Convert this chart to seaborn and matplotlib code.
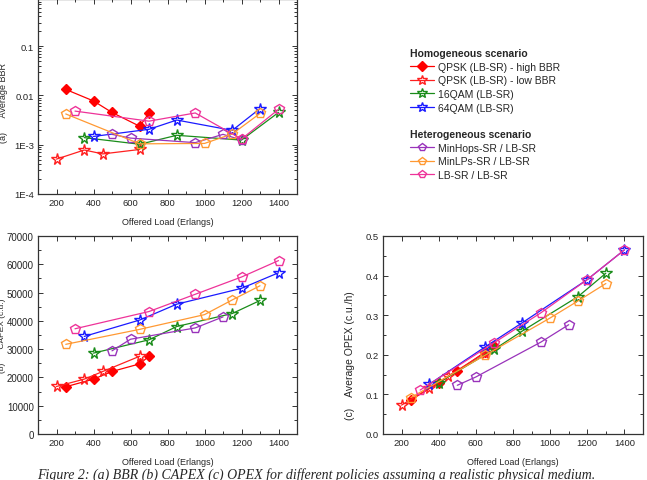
import numpy as np
import pandas as pd
import matplotlib
matplotlib.use("Agg")
import matplotlib.pyplot as plt
import seaborn as sns
from matplotlib.lines import Line2D
from matplotlib.ticker import FixedLocator, FixedFormatter, MultipleLocator, LogLocator, NullFormatter

sns.set_style("ticks")
plt.rcParams['font.family'] = ['Liberation Sans', 'DejaVu Sans']

# ---------------- data ----------------
names = ["QPSK (LB-SR) - high BBR", "QPSK (LB-SR) - low BBR", "16QAM (LB-SR)", "64QAM (LB-SR)",
         "MinHops-SR / LB-SR", "MinLPs-SR / LB-SR", "LB-SR / LB-SR"]

# (a) Average BBR
bbr_x = {
    names[0]: [250, 400, 500, 650, 700],
    names[1]: [200, 350, 450, 650],
    names[2]: [350, 650, 850, 1200, 1400],
    names[3]: [400, 700, 850, 1150, 1300],
    names[4]: [500, 600, 950, 1100, 1200],
    names[5]: [250, 650, 1000, 1150, 1300],
    names[6]: [300, 700, 950, 1200, 1400],
}
bbr_y = {
    names[0]: [0.0132, 0.0077, 0.0045, 0.00236, 0.0044],
    names[1]: [5.1e-4, 7.8e-4, 6.5e-4, 8.0e-4],
    names[2]: [1.39e-3, 1.02e-3, 1.55e-3, 1.24e-3, 4.5e-3],
    names[3]: [1.47e-3, 2.05e-3, 3.16e-3, 1.95e-3, 5.4e-3],
    names[4]: [1.62e-3, 1.36e-3, 1.1e-3, 1.62e-3, 1.25e-3],
    names[5]: [4.2e-3, 1.04e-3, 1.06e-3, 1.65e-3, 4.3e-3],
    names[6]: [4.8e-3, 3.0e-3, 4.4e-3, 1.3e-3, 5.2e-3],
}

# (b) CAPEX
capex_x = {
    names[0]: [250, 400, 500, 650, 700],
    names[1]: [200, 350, 450, 650],
    names[2]: [400, 700, 850, 1150, 1300],
    names[3]: [350, 650, 850, 1200, 1400],
    names[4]: [500, 600, 950, 1100],
    names[5]: [250, 650, 1000, 1150, 1300],
    names[6]: [300, 700, 950, 1200, 1400],
}
capex_y = {
    names[0]: [16700, 19400, 22100, 24800, 27500],
    names[1]: [16800, 19400, 22100, 27500],
    names[2]: [28600, 33300, 38000, 42600, 47200],
    names[3]: [34500, 40300, 45900, 51500, 57000],
    names[4]: [29400, 33500, 37500, 41400],
    names[5]: [31700, 37000, 42200, 47400, 52400],
    names[6]: [37200, 43300, 49400, 55500, 61300],
}

# (c) OPEX
opex_x = {
    names[0]: [250, 400, 500, 650, 700],
    names[1]: [200, 350, 450, 650],
    names[2]: [400, 700, 850, 1150, 1300],
    names[3]: [350, 650, 850, 1200, 1400],
    names[4]: [500, 600, 950, 1100],
    names[5]: [250, 650, 1000, 1150, 1300],
    names[6]: [300, 700, 950, 1200, 1400],
}
opex_y = {
    names[0]: [0.086, 0.129, 0.159, 0.207, 0.222],
    names[1]: [0.073, 0.116, 0.146, 0.205],
    names[2]: [0.130, 0.214, 0.260, 0.347, 0.406],
    names[3]: [0.126, 0.220, 0.281, 0.390, 0.465],
    names[4]: [0.123, 0.144, 0.232, 0.276],
    names[5]: [0.092, 0.199, 0.293, 0.336, 0.380],
    names[6]: [0.111, 0.231, 0.306, 0.390, 0.465],
}

bbr_ticks = [1e-4, 1e-3, 1e-2, 1e-1]
bbr_ticklabels = ["1E-4", "1E-3", "0.01", "0.1"]

# ---------------- styles ----------------
styles = {
    names[0]: dict(color="#ff0000", marker="D", mfc="#ff0000", ms=5.5),
    names[1]: dict(color="#ff2020", marker="*", mfc="none", ms=8.5),
    names[2]: dict(color="#1a8c1a", marker="*", mfc="none", ms=8.5),
    names[3]: dict(color="#1a1aff", marker="*", mfc="none", ms=8.5),
    names[4]: dict(color="#9933bb", marker="p", mfc="none", ms=7),
    names[5]: dict(color="#ff9933", marker="p", mfc="none", ms=7),
    names[6]: dict(color="#ee3399", marker="p", mfc="none", ms=7),
}

W, H = 647, 481
fig = plt.figure(figsize=(W / 100, H / 100), dpi=100)

def ax_rect(l, t, r, b):
    return [l / W, 1 - b / H, (r - l) / W, (b - t) / H]

axA = fig.add_axes(ax_rect(38, 0, 297, 195))
axB = fig.add_axes(ax_rect(38, 237, 297, 435))
axC = fig.add_axes(ax_rect(383, 237, 643, 435))

def draw(ax, xs, ys):
    for n in names:
        st = styles[n]
        df = pd.DataFrame({"x": xs[n], "y": ys[n]})
        sns.lineplot(data=df, x="x", y="y", ax=ax, color=st["color"], lw=0.9,
                     marker=st["marker"], markersize=st["ms"], markerfacecolor=st["mfc"],
                     markeredgecolor=st["color"], markeredgewidth=1.0,
                     sort=False, estimator=None, legend=False)

draw(axA, bbr_x, bbr_y)
draw(axB, capex_x, capex_y)
draw(axC, opex_x, opex_y)

tick_fs = 6.8
for ax in (axA, axB, axC):
    ax.set_xlim(100, 1500)
    ax.xaxis.set_major_locator(FixedLocator([200, 400, 600, 800, 1000, 1200, 1400]))
    ax.xaxis.set_minor_locator(MultipleLocator(100))
    ax.tick_params(which="both", direction="in", top=True, right=True, labelsize=tick_fs,
                   color="#333333", width=0.7, pad=3)
    ax.tick_params(which="major", length=3.5)
    ax.tick_params(which="minor", length=2)
    for s in ax.spines.values():
        s.set_linewidth(0.9)
        s.set_color("#333333")
    ax.set_xlabel("Offered Load (Erlangs)", fontsize=6.5, labelpad=7)

axA.set_yscale("log")
axA.set_ylim(1e-4, 0.9)
axA.yaxis.set_major_locator(FixedLocator(bbr_ticks))
axA.yaxis.set_major_formatter(FixedFormatter(bbr_ticklabels))
axA.yaxis.set_minor_locator(LogLocator(base=10, subs=np.arange(2, 10)))
axA.yaxis.set_minor_formatter(NullFormatter())
axA.set_ylabel("(a)      Average BBR", fontsize=6.5)
axA.yaxis.set_label_coords(-0.115, 0.47)

axB.set_ylim(0, 70000)
axB.yaxis.set_major_locator(MultipleLocator(10000))
axB.yaxis.set_minor_locator(MultipleLocator(5000))
axB.tick_params(axis="y", labelsize=7.0)
axB.set_ylabel("(b)      CAPEX (c.u.)", fontsize=6)
axB.yaxis.set_label_coords(-0.125, 0.5)

axC.set_ylim(0, 0.5)
axC.yaxis.set_major_locator(MultipleLocator(0.1))
axC.yaxis.set_minor_locator(MultipleLocator(0.05))
axC.yaxis.set_major_formatter(matplotlib.ticker.FormatStrFormatter("%.1f"))
axC.set_ylabel("(c)    Average OPEX (c.u./h)", fontsize=7.5)
axC.yaxis.set_label_coords(-0.108, 0.40)

# ---------------- legends ----------------
def handles_for(ns):
    hs = []
    for n in ns:
        st = styles[n]
        hs.append(Line2D([], [], color=st["color"], lw=0.9, marker=st["marker"],
                         markersize=st["ms"] * 0.85, markerfacecolor=st["mfc"],
                         markeredgecolor=st["color"]))
    return hs

leg_kw = dict(loc="upper left", frameon=False, fontsize=7.5, handlelength=2.3,
              handletextpad=0.35, labelspacing=0.35, borderpad=0, borderaxespad=0,
              alignment="left", title_fontproperties={"weight": "bold", "size": 7.5})
leg1 = fig.legend(handles_for(names[:4]), names[:4], title="Homogeneous scenario",
                  bbox_to_anchor=(410 / W, 1 - 49 / H), **leg_kw)
leg2 = fig.legend(handles_for(names[4:]), names[4:], title="Heterogeneous scenario",
                  bbox_to_anchor=(410 / W, 1 - 130 / H), **leg_kw)

fig.text(316 / W, 1 - 475 / H,
         "Figure 2: (a) BBR (b) CAPEX (c) OPEX for different policies assuming a realistic physical medium.",
         ha="center", va="center", fontsize=10, style="italic", family="Liberation Serif")

fig.savefig("out.png", dpi=100)
